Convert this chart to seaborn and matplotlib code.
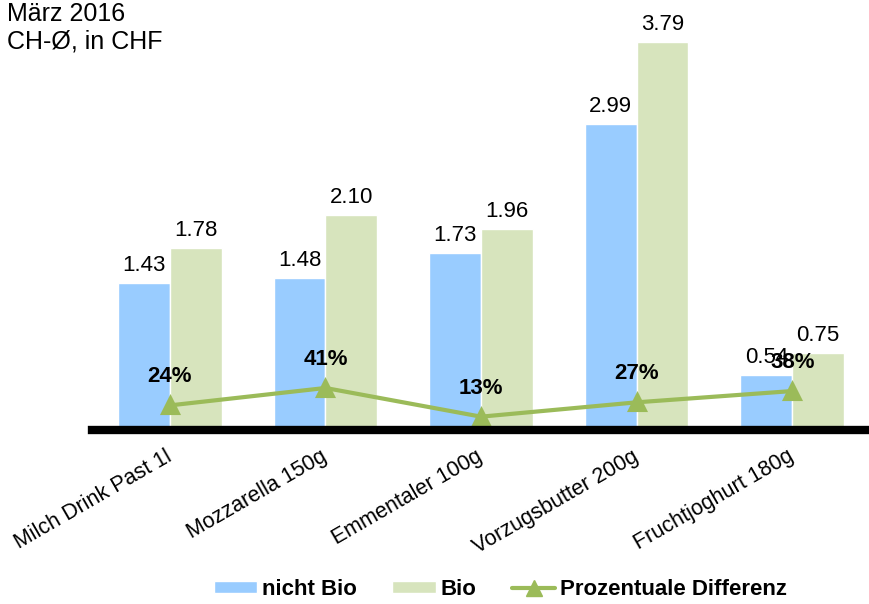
import matplotlib.pyplot as plt
import pandas as pd
import seaborn as sns
from matplotlib.patches import Patch
from matplotlib.lines import Line2D

# Daten
produkte = ["Milch Drink Past 1l", "Mozzarella 150g", "Emmentaler 100g",
            "Vorzugsbutter 200g", "Fruchtjoghurt 180g"]
nicht_bio = [1.43, 1.48, 1.73, 2.99, 0.54]
bio = [1.78, 2.10, 1.96, 3.79, 0.75]
differenz = [0.24, 0.41, 0.13, 0.27, 0.38]
differenz_labels = ["24%", "41%", "13%", "27%", "38%"]

blau = "#99CCFF"
gruen = "#D7E4BD"
linie = "#9BBB59"

sns.set_theme(style="white")
plt.rcParams['font.family'] = ['Liberation Sans', 'DejaVu Sans']
plt.rcParams['text.color'] = 'black'
plt.rcParams['xtick.color'] = 'black'

df = pd.DataFrame({
    "produkt": produkte * 2,
    "preis": nicht_bio + bio,
    "typ": ["nicht Bio"] * 5 + ["Bio"] * 5,
})

fig = plt.figure(figsize=(8.7, 6.04), dpi=100)
ax = fig.add_axes([92 / 870, 174 / 604, 778 / 870, 410 / 604])

sns.barplot(data=df, x="produkt", y="preis", hue="typ",
            palette={"nicht Bio": blau, "Bio": gruen},
            width=0.667, saturation=1, errorbar=None, legend=False, ax=ax)

# Wertebeschriftung
for cont in ax.containers:
    ax.bar_label(cont, labels=[f"{v:.2f}" for v in cont.datavalues],
                 padding=5, fontsize=16, color="black")

# Prozentuale Differenz
sns.pointplot(x=produkte, y=differenz, color=linie, markers="^",
              linestyles="-", ax=ax, markersize=12, linewidth=3)
for i, (d, lab) in enumerate(zip(differenz, differenz_labels)):
    ax.annotate(lab, (i, d), xytext=(0, 13), textcoords="offset points",
                ha="center", va="bottom", fontsize=16, fontweight="bold",
                color="black")

ax.set_xlim(-0.5, 4.5)
ax.set_ylim(0, 4.0)
ax.set_xlabel("")
ax.set_ylabel("")
ax.set_yticks([])
for s in ["top", "right", "left"]:
    ax.spines[s].set_visible(False)
ax.spines["bottom"].set_linewidth(6)
ax.spines["bottom"].set_color("black")
ax.tick_params(axis="x", length=0, pad=18)
plt.setp(ax.get_xticklabels(), rotation=30, ha="right", va="center",
         rotation_mode="anchor", fontsize=15.5)

fig.text(0.008, 0.997, "März 2016\nCH-Ø, in CHF", va="top", ha="left",
         fontsize=18, linespacing=1.2)

handles = [
    Patch(facecolor=blau, label="nicht Bio"),
    Patch(facecolor=gruen, label="Bio"),
    Line2D([], [], color=linie, marker="^", linewidth=3, markersize=12,
           label="Prozentuale Differenz"),
]
fig.legend(handles=handles, loc="center", bbox_to_anchor=(0.575, 0.024),
           ncol=3, frameon=False, prop={"weight": "bold", "size": 16},
           handlelength=1.95, handleheight=0.45, columnspacing=1.6,
           handletextpad=0.22)

fig.savefig("out.png", dpi=100)
